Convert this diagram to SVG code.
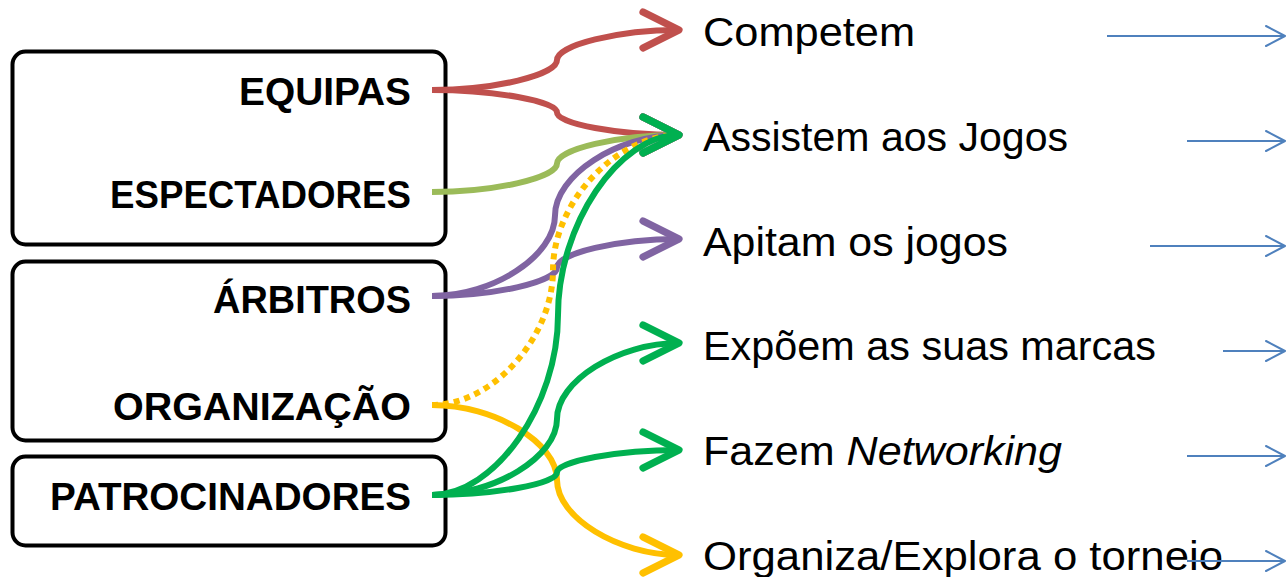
<svg xmlns="http://www.w3.org/2000/svg" width="1287" height="577" viewBox="0 0 1287 577">
<style>
.box{fill:#fff;stroke:#000;stroke-width:4}
.lt{font-family:"Liberation Sans",Arial,sans-serif;font-weight:bold;font-size:39px;fill:#000;text-anchor:end}
.rt{font-family:"Liberation Sans",Arial,sans-serif;font-size:41px;fill:#000}
.c{fill:none;stroke-width:6;stroke-linecap:butt}
.blue{fill:none;stroke:#4F81BD;stroke-width:2}
</style>
<defs>
<marker id="mr" markerUnits="userSpaceOnUse" orient="auto" refX="0" refY="0" markerWidth="60" markerHeight="60" viewBox="-40 -25 50 50" overflow="visible"><path d="M-30,-15 L0,0 L-30,15" fill="none" stroke="#C0504D" stroke-width="6" stroke-linecap="round" stroke-linejoin="round"/></marker>
<marker id="mo" markerUnits="userSpaceOnUse" orient="auto" refX="0" refY="0" markerWidth="60" markerHeight="60" viewBox="-40 -25 50 50" overflow="visible"><path d="M-30,-15 L0,0 L-30,15" fill="none" stroke="#9BBB59" stroke-width="6" stroke-linecap="round" stroke-linejoin="round"/></marker>
<marker id="mp" markerUnits="userSpaceOnUse" orient="auto" refX="0" refY="0" markerWidth="60" markerHeight="60" viewBox="-40 -25 50 50" overflow="visible"><path d="M-30,-15 L0,0 L-30,15" fill="none" stroke="#8064A2" stroke-width="6" stroke-linecap="round" stroke-linejoin="round"/></marker>
<marker id="my" markerUnits="userSpaceOnUse" orient="auto" refX="0" refY="0" markerWidth="60" markerHeight="60" viewBox="-40 -25 50 50" overflow="visible"><path d="M-30,-15 L0,0 L-30,15" fill="none" stroke="#FFC000" stroke-width="6" stroke-linecap="round" stroke-linejoin="round"/></marker>
<marker id="mg" markerUnits="userSpaceOnUse" orient="auto" refX="0" refY="0" markerWidth="60" markerHeight="60" viewBox="-40 -25 50 50" overflow="visible"><path d="M-30,-15 L0,0 L-30,15" fill="none" stroke="#00B050" stroke-width="6" stroke-linecap="round" stroke-linejoin="round"/></marker>
<marker id="mb" markerUnits="userSpaceOnUse" orient="auto" refX="0" refY="0" markerWidth="30" markerHeight="30" viewBox="-25 -15 30 30" overflow="visible"><path d="M-19,-10 L0,0 L-19,10" fill="none" stroke="#4F81BD" stroke-width="2" stroke-linecap="round" stroke-linejoin="round"/></marker>
</defs>

<g id="box-equipas-espectadores">
<rect class="box" x="12.5" y="51.5" width="433" height="193" rx="13"/>
<text class="lt" x="411" y="105" textLength="172" lengthAdjust="spacingAndGlyphs">EQUIPAS</text>
<text class="lt" x="411" y="208" textLength="301" lengthAdjust="spacingAndGlyphs">ESPECTADORES</text>
</g>
<g id="box-arbitros-organizacao">
<rect class="box" x="12.5" y="261.5" width="433" height="179" rx="13"/>
<text class="lt" x="411" y="313" textLength="198" lengthAdjust="spacingAndGlyphs">ÁRBITROS</text>
<text class="lt" x="411" y="420" textLength="298" lengthAdjust="spacingAndGlyphs">ORGANIZAÇÃO</text>
</g>
<g id="box-patrocinadores">
<rect class="box" x="12.5" y="456.5" width="433" height="89" rx="13"/>
<text class="lt" x="411" y="510" textLength="361" lengthAdjust="spacingAndGlyphs">PATROCINADORES</text>
</g>

<g id="labels">
<text id="l-competem" class="rt" x="703" y="46" textLength="212" lengthAdjust="spacingAndGlyphs">Competem</text>
<text id="l-assistem" class="rt" x="703" y="151" textLength="365" lengthAdjust="spacingAndGlyphs">Assistem aos Jogos</text>
<text id="l-apitam" class="rt" x="703" y="256" textLength="305" lengthAdjust="spacingAndGlyphs">Apitam os jogos</text>
<text id="l-expoem" class="rt" x="703" y="360" textLength="453" lengthAdjust="spacingAndGlyphs">Expõem as suas marcas</text>
<text id="l-fazem" class="rt" x="703" y="465" textLength="359" lengthAdjust="spacingAndGlyphs">Fazem <tspan font-style="italic">Networking</tspan></text>
<text id="l-organiza" class="rt" x="703" y="570" textLength="520" lengthAdjust="spacingAndGlyphs">Organiza/Explora o torneio</text>
</g>

<g id="connectors">
<path class="c" stroke="#C0504D" marker-end="url(#mr)" d="M432,90 C494.5,90 557,75 557,60 C557,45 618,30 679,30"/>
<path class="c" stroke="#C0504D" marker-end="url(#mr)" d="M432,90 C494.5,90 557,101.25 557,112.5 C557,123.75 618,135 679,135"/>
<path class="c" stroke="#9BBB59" marker-end="url(#mo)" d="M432,192 C494.5,192 557,177.75 557,163.5 C557,149.25 618,135 679,135"/>
<path class="c" stroke="#8064A2" marker-end="url(#mp)" d="M432,296 C493.5,296 555,255.75 555,215.5 C555,175.25 617,135 679,135"/>
<path class="c" stroke="#8064A2" marker-end="url(#mp)" d="M432,296 C494.5,296 557,281.75 557,267.5 C557,253.25 618,239 679,239"/>
<path class="c" stroke="#FFC000" stroke-dasharray="6 5" d="M432,405 C492.5,405 553,337.5 553,270 C553,202.5 616,135 679,135"/>
<path class="c" stroke="#FFC000" marker-end="url(#my)" d="M432,405 C494.5,405 557,442.5 557,480 C557,517.5 618,555 679,555"/>
<path class="c" stroke="#00B050" marker-end="url(#mg)" d="M432,495 C495,495 558,405 558,315 C558,225 618.5,135 679,135"/>
<path class="c" stroke="#00B050" marker-end="url(#mg)" d="M432,495 C494.5,495 557,457 557,419 C557,381 618,343 679,343"/>
<path class="c" stroke="#00B050" marker-end="url(#mg)" d="M432,495 C494.5,495 557,483.75 557,472.5 C557,461.25 618,450 679,450"/>
<line class="blue" marker-end="url(#mb)" x1="1107" y1="36" x2="1285" y2="36"/>
<line class="blue" marker-end="url(#mb)" x1="1187" y1="141" x2="1285" y2="141"/>
<line class="blue" marker-end="url(#mb)" x1="1150" y1="246" x2="1285" y2="246"/>
<line class="blue" marker-end="url(#mb)" x1="1223" y1="351" x2="1285" y2="351"/>
<line class="blue" marker-end="url(#mb)" x1="1187" y1="456" x2="1285" y2="456"/>
<line class="blue" marker-end="url(#mb)" x1="1187" y1="561" x2="1285" y2="561"/>
</g>
</svg>
